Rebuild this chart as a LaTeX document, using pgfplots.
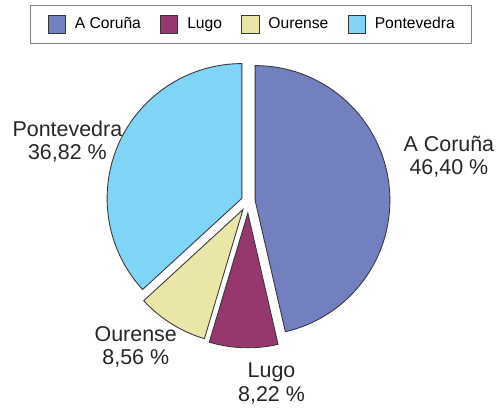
\documentclass[border=0pt]{standalone}
\usepackage{fontspec}
\setmainfont{Liberation Sans}
\usepackage{pgfplots}
\pgfplotsset{compat=1.18}

\definecolor{acoruna}{RGB}{114,128,192}
\definecolor{lugo}{RGB}{150,56,110}
\definecolor{ourense}{RGB}{234,230,168}
\definecolor{pontevedra}{RGB}{128,212,245}
\definecolor{edge}{RGB}{55,55,55}

% one pixel of the 499x407 reference
\newcommand\pxu{0.024048cm}

\begin{document}
\begin{tikzpicture}
\begin{axis}[
  x=\pxu, y=\pxu,
  xmin=0, xmax=499, ymin=0, ymax=407,
  hide axis, clip=false,
  legend columns=4,
  legend image code/.code={\draw[#1, draw=edge, line width=0.5pt] (0pt,-6pt) rectangle (12pt,6pt);},
  legend style={at={(axis cs:253.5,382.5)}, anchor=center,
    draw=gray, line width=0.8pt, inner xsep=11.6pt, inner ysep=6.8pt,
    font=\fontsize{10.8}{13}\selectfont,
    nodes={inner xsep=0pt, inner ysep=0pt},
    /tikz/every odd column/.append style={column sep=6.3pt},
    /tikz/every even column/.append style={column sep=13.2pt}},
]
\path (axis cs:0,0) rectangle (axis cs:499,407);

\addlegendimage{fill=acoruna}
\addlegendentry{A Coruña}
\addlegendimage{fill=lugo}
\addlegendentry{Lugo}
\addlegendimage{fill=ourense}
\addlegendentry{Ourense}
\addlegendimage{fill=pontevedra}
\addlegendentry{Pontevedra}

% share (%) / colour / explode distance (px); clockwise from the top
\pgfplotsextra{
  \xdef\angstart{90}
  \foreach \v/\col/\ex in {46.40/acoruna/7, 8.22/lugo/12, 8.56/ourense/10, 36.82/pontevedra/7}{
    \pgfmathsetmacro\angend{\angstart-3.6*\v}
    \pgfmathsetmacro\angmid{\angstart-1.8*\v}
    \pgfmathsetmacro\cx{250.5+\ex*cos(\angmid)}
    \pgfmathsetmacro\cy{204+\ex*sin(\angmid)}
    \filldraw[fill=\col, draw=edge, line width=0.6pt, line join=miter]
      (axis cs:\cx,\cy) -- (axis cs:{\cx+136*cos(\angstart)},{\cy+136*sin(\angstart)})
      arc[start angle=\angstart, end angle=\angend, radius=3.2705cm] -- cycle;
    \xdef\angstart{\angend}
  }
}

\tikzset{lbl/.style={align=center, font=\fontsize{14.8}{16}\selectfont, text=black!85}}
\node[lbl] at (axis cs:453,249) {A Coruña\\46,40 \%};
\node[lbl] at (axis cs:68,264) {Pontevedra\\36,82 \%};
\node[lbl] at (axis cs:137,57) {Ourense\\8,56 \%};
\node[lbl] at (axis cs:274,20) {Lugo\\8,22 \%};
\end{axis}
\end{tikzpicture}
\end{document}
